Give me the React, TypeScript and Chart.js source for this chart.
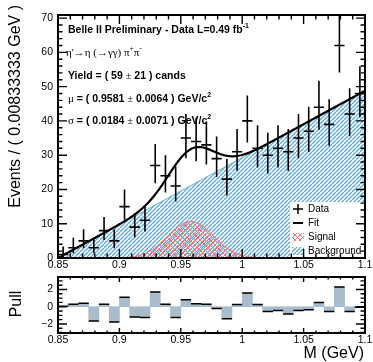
import React, { useEffect, useRef } from "react";
import { Chart, registerables } from "chart.js";
Chart.register(...registerables);

// ---------------- data ----------------
const X_MIN = 0.85;
const X_MAX = 1.1;
const BIN_WIDTH = 0.25 / 30;
const BIN_CENTERS = [
  0.85417, 0.8625, 0.87083, 0.87917, 0.8875, 0.89583, 0.90417, 0.9125, 0.92083, 0.92917,
  0.9375, 0.94583, 0.95417, 0.9625, 0.97083, 0.97917, 0.9875, 0.99583, 1.00417, 1.0125,
  1.02083, 1.02917, 1.0375, 1.04583, 1.05417, 1.0625, 1.07083, 1.07917, 1.0875, 1.09583,
];
const COUNTS = [
  1, 3, 5, 3, 8, 5, 15, 9, 11, 27,
  24, 21, 35, 34, 33, 29, 23, 31, 40, 32,
  30, 32, 31, 35, 37, 44, 39, 62, 42, 48,
];
const PULLS = [
  0.05, 0.3, 0.4, -1.65, 0.3, -1.76, 1.1, -1.2, -1.25, 1.7,
  0.3, -1.25, 0.8, 0.35, 0.3, -0.2, -1.4, 0.25, 1.6, 0.25,
  -0.55, -0.45, -0.85, -0.45, -0.35, 0.5, -0.55, 2.3, -0.55, -0.05,
];
// fit model parameters (from the plot's annotation)
const FIT_MU = 0.9581;
const FIT_SIGMA = 0.0184;
const FIT_YIELD = 59;
const BG_AT_MIN = 0; // background density at 0.85 (events / bin)
const BG_AT_MAX = 48.8; // background density at 1.1 (events / bin)

const X_TICKS = [0.85, 0.9, 0.95, 1, 1.05, 1.1];
const Y_TICKS = [0, 10, 20, 30, 40, 50, 60, 70];
const PULL_TICKS = [-2, 0, 2];
const Y_MAX = 70.9;
const PULL_MIN = -3.05;
const PULL_MAX = 3.45;

const LEGEND = ["Data", "Fit", "Signal", "Background"];

// ---------------- model helpers ----------------
const bg = (m: number) => BG_AT_MIN + ((BG_AT_MAX - BG_AT_MIN) * (m - X_MIN)) / (X_MAX - X_MIN);
const sig = (m: number) =>
  ((FIT_YIELD * BIN_WIDTH) / (FIT_SIGMA * Math.sqrt(2 * Math.PI))) *
  Math.exp(-0.5 * ((m - FIT_MU) / FIT_SIGMA) ** 2);
const SAMPLE_M: number[] = [];
for (let k = 0; k <= 250; k++) SAMPLE_M.push(X_MIN + k * 0.001);

// Poisson (Gehrels) asymmetric errors
const errHi = (n: number) => Math.sqrt(n + 0.75) + 1;
const errLo = (n: number) => (n <= 0 ? 0 : n - n * Math.pow(1 - 1 / (9 * n) - 1 / (3 * Math.sqrt(n)), 3));

const SANS = '"Liberation Sans", Arial, sans-serif';
const SERIF = '"Liberation Serif", "DejaVu Serif", serif';
const BLUE = "rgb(95,172,222)";
const RED = "rgb(238,118,118)";

function makePattern(kind: "bg" | "sig"): CanvasPattern {
  const s = kind === "bg" ? 4 : 5;
  const c = document.createElement("canvas");
  c.width = s;
  c.height = s;
  const g = c.getContext("2d")!;
  g.strokeStyle = kind === "bg" ? BLUE : RED;
  g.lineWidth = kind === "bg" ? 1.3 : 1;
  const line = (a: number, b: number, cc: number, d: number) => {
    g.beginPath();
    g.moveTo(a, b);
    g.lineTo(cc, d);
    g.stroke();
  };
  for (const o of [-s, 0, s]) {
    line(o, s, o + s, 0);
    if (kind === "sig") line(o, 0, o + s, s);
  }
  return g.createPattern(c, "repeat")!;
}

type Part = [string, string, number?];
function drawRich(ctx: CanvasRenderingContext2D, x: number, y: number, parts: Part[]) {
  let cx = x;
  for (const [t, f, dy] of parts) {
    ctx.font = f;
    ctx.fillText(t, cx, y + (dy || 0));
    cx += ctx.measureText(t).width;
  }
}

function minorVals(lo: number, hi: number, step: number, majors: number[]) {
  const out: number[] = [];
  const n = Math.round((hi - lo) / step);
  for (let k = 0; k <= n; k++) {
    const v = +(lo + k * step).toFixed(6);
    if (!majors.some((m) => Math.abs(m - v) < 1e-6)) out.push(v);
  }
  return out;
}

function drawFrameTicks(
  chart: any,
  opt: { xMaj: number; xMin: number; yMaj: number; yMin: number; yMinors: number[]; yMajors: number[] }
) {
  const ctx: CanvasRenderingContext2D = chart.ctx;
  const ca = chart.chartArea;
  const xs = chart.scales.x;
  const ys = chart.scales.y;
  ctx.save();
  ctx.strokeStyle = "#000";
  ctx.lineWidth = 1.4;
  ctx.beginPath();
  const xMinors = minorVals(X_MIN, X_MAX, 0.01, X_TICKS);
  const addX = (v: number, len: number) => {
    const p = xs.getPixelForValue(v);
    ctx.moveTo(p, ca.bottom);
    ctx.lineTo(p, ca.bottom - len);
    ctx.moveTo(p, ca.top);
    ctx.lineTo(p, ca.top + len);
  };
  X_TICKS.forEach((v) => addX(v, opt.xMaj));
  xMinors.forEach((v) => addX(v, opt.xMin));
  const addY = (v: number, len: number) => {
    const p = ys.getPixelForValue(v);
    if (p < ca.top - 0.5 || p > ca.bottom + 0.5) return;
    ctx.moveTo(ca.left, p);
    ctx.lineTo(ca.left + len, p);
    ctx.moveTo(ca.right, p);
    ctx.lineTo(ca.right - len, p);
  };
  opt.yMajors.forEach((v) => addY(v, opt.yMaj));
  opt.yMinors.forEach((v) => addY(v, opt.yMin));
  ctx.stroke();
  ctx.lineWidth = 2;
  ctx.strokeRect(ca.left, ca.top, ca.right - ca.left, ca.bottom - ca.top);
  ctx.restore();
}

const tickFont = { family: SANS, size: 10.5 };

export default function App() {
  const topRef = useRef<HTMLCanvasElement>(null);
  const botRef = useRef<HTMLCanvasElement>(null);

  useEffect(() => {
    const bgPat = makePattern("bg");
    const sigPat = makePattern("sig");

    const topPlugin = {
      id: "topDecor",
      afterDraw(chart: any) {
        const ctx: CanvasRenderingContext2D = chart.ctx;
        const ca = chart.chartArea;
        const xs = chart.scales.x;
        const ys = chart.scales.y;
        ctx.save();
        // data crosses
        ctx.strokeStyle = "#000";
        ctx.lineWidth = 1.6;
        ctx.beginPath();
        COUNTS.forEach((n, i) => {
          const c = BIN_CENTERS[i];
          const x0 = xs.getPixelForValue(c - BIN_WIDTH / 2);
          const x1 = xs.getPixelForValue(c + BIN_WIDTH / 2);
          const xc = xs.getPixelForValue(c);
          const y = ys.getPixelForValue(n);
          const yh = Math.max(ca.top, ys.getPixelForValue(n + errHi(n)));
          const yl = Math.min(ca.bottom, ys.getPixelForValue(n - errLo(n)));
          ctx.moveTo(x0, y);
          ctx.lineTo(x1, y);
          ctx.moveTo(xc, yh);
          ctx.lineTo(xc, yl);
        });
        ctx.stroke();

        // legend
        const lx = ca.right - 75;
        const ly = ca.bottom - 56;
        ctx.fillStyle = "#fff";
        ctx.fillRect(lx, ly, 75, 56);
        const rows = [ly + 7, ly + 21, ly + 35, ly + 49];
        const sx0 = lx + 3;
        const sx1 = lx + 13;
        ctx.strokeStyle = "#000";
        ctx.lineWidth = 1.5;
        ctx.beginPath();
        ctx.moveTo(sx0, rows[0]);
        ctx.lineTo(sx1, rows[0]);
        ctx.moveTo((sx0 + sx1) / 2, rows[0] - 5);
        ctx.lineTo((sx0 + sx1) / 2, rows[0] + 5);
        ctx.stroke();
        ctx.lineWidth = 2;
        ctx.beginPath();
        ctx.moveTo(sx0, rows[1]);
        ctx.lineTo(sx1, rows[1]);
        ctx.stroke();
        ctx.fillStyle = sigPat;
        ctx.fillRect(sx0 - 1, rows[2] - 4, 12, 8);
        ctx.fillStyle = bgPat;
        ctx.fillRect(sx0 - 1, rows[3] - 4, 12, 8);
        ctx.fillStyle = "#000";
        ctx.font = `10px ${SANS}`;
        ctx.textBaseline = "middle";
        ctx.textAlign = "left";
        LEGEND.forEach((t, i) => ctx.fillText(t, lx + 18, rows[i]));

        // annotations
        const B = `bold 10.5px ${SANS}`;
        const BS = `bold 7px ${SANS}`;
        const S = `10.5px ${SERIF}`;
        const tx = ca.left + 10;
        drawRich(ctx, tx, 30, [["Belle II Preliminary - Data L=0.49 fb", B], ["-1", BS, -4]]);
        drawRich(ctx, ca.left + 8, 53, [
          ["η'→η (→γγ) π", `11px ${SERIF}`],
          ["+", `7.5px ${SERIF}`, -4],
          ["π", `11px ${SERIF}`],
          ["-", `7.5px ${SERIF}`, -4],
        ]);
        drawRich(ctx, tx, 76, [["Yield = ( 59 ", B], ["±", S], [" 21 ) cands", B]]);
        drawRich(ctx, tx, 99, [
          ["μ", `11px ${SERIF}`],
          [" = ( 0.9581 ", B],
          ["±", S],
          [" 0.0064 ) GeV/c", B],
          ["2", BS, -4],
        ]);
        drawRich(ctx, tx, 121, [
          ["σ", `11px ${SERIF}`],
          [" = ( 0.0184 ", B],
          ["±", S],
          [" 0.0071 ) GeV/c", B],
          ["2", BS, -4],
        ]);

        // y title
        ctx.save();
        ctx.translate(16, 5);
        ctx.rotate(-Math.PI / 2);
        ctx.textAlign = "right";
        ctx.textBaseline = "middle";
        ctx.font = `16px ${SANS}`;
        ctx.fillText("Events / ( 0.00833333 GeV )", 0, 0);
        ctx.restore();
        ctx.restore();

        drawFrameTicks(chart, {
          xMaj: 9,
          xMin: 4.5,
          yMaj: 9,
          yMin: 4.5,
          yMajors: Y_TICKS,
          yMinors: minorVals(0, 72, 2, Y_TICKS),
        });
      },
    };

    const top = new Chart(topRef.current!, {
      type: "line",
      data: {
        datasets: [
          {
            label: "Background",
            data: SAMPLE_M.filter((_, k) => k % 50 === 0).map((m) => ({ x: m, y: bg(m) })),
            fill: "origin",
            backgroundColor: bgPat as any,
            borderColor: BLUE,
            borderWidth: 1,
            pointRadius: 0,
            order: 4,
          },
          {
            label: "Signal",
            data: SAMPLE_M.map((m) => ({ x: m, y: sig(m) })),
            fill: "origin",
            backgroundColor: sigPat as any,
            borderColor: RED,
            borderWidth: 1,
            pointRadius: 0,
            order: 3,
          },
          {
            label: "Fit",
            data: SAMPLE_M.map((m) => ({ x: m, y: bg(m) + sig(m) })),
            fill: false,
            borderColor: "#000",
            borderWidth: 2.2,
            pointRadius: 0,
            order: 2,
          },
          {
            label: "Data",
            type: "scatter",
            data: COUNTS.map((n, i) => ({ x: BIN_CENTERS[i], y: n })),
            pointRadius: 0,
            showLine: false,
            order: 1,
          } as any,
        ],
      },
      options: {
        animation: false,
        responsive: false,
        maintainAspectRatio: false,
        devicePixelRatio: 1,
        events: [],
        layout: { padding: { top: 15, right: 8, left: 0, bottom: 0 } },
        plugins: { legend: { display: false }, tooltip: { enabled: false } },
        scales: {
          x: {
            type: "linear",
            min: X_MIN,
            max: X_MAX,
            grid: { display: false, drawTicks: false },
            border: { display: false },
            afterBuildTicks: (s: any) => {
              s.ticks = X_TICKS.map((v) => ({ value: v }));
            },
            afterFit: (s: any) => {
              s.height = 14;
              s.paddingLeft = 0;
              s.paddingRight = 0;
            },
            ticks: {
              padding: 1,
              font: tickFont,
              color: "#000",
              maxRotation: 0,
              autoSkip: false,
              callback: (v: any) => String(+(+v).toFixed(2)),
            },
          },
          y: {
            min: 0,
            max: Y_MAX,
            grid: { display: false, drawTicks: false },
            border: { display: false },
            afterBuildTicks: (s: any) => {
              s.ticks = Y_TICKS.map((v) => ({ value: v }));
            },
            afterFit: (s: any) => {
              s.width = 58;
              s.paddingTop = 0;
              s.paddingBottom = 0;
            },
            ticks: { padding: 5, font: tickFont, color: "#000", callback: (v: any) => String(v) },
          },
        },
      } as any,
      plugins: [topPlugin],
    });

    const botPlugin = {
      id: "botDecor",
      afterDraw(chart: any) {
        const ctx: CanvasRenderingContext2D = chart.ctx;
        const xs = chart.scales.x;
        const ys = chart.scales.y;
        ctx.save();
        ctx.strokeStyle = "#000";
        ctx.lineWidth = 1.5;
        ctx.beginPath();
        PULLS.forEach((p, i) => {
          const c = BIN_CENTERS[i];
          const x0 = xs.getPixelForValue(c - BIN_WIDTH / 2);
          const x1 = xs.getPixelForValue(c + BIN_WIDTH / 2);
          const y = ys.getPixelForValue(p);
          ctx.moveTo(x0, y);
          ctx.lineTo(x1, y);
        });
        ctx.stroke();
        ctx.fillStyle = "#000";
        ctx.font = `16px ${SANS}`;
        ctx.textBaseline = "middle";
        ctx.textAlign = "right";
        ctx.fillText("M (GeV)", 364, 82);
        ctx.save();
        ctx.translate(17, 32);
        ctx.rotate(-Math.PI / 2);
        ctx.textAlign = "center";
        ctx.fillText("Pull", 0, 0);
        ctx.restore();
        ctx.restore();
        drawFrameTicks(chart, {
          xMaj: 5,
          xMin: 2.5,
          yMaj: 9,
          yMin: 4.5,
          yMajors: PULL_TICKS,
          yMinors: minorVals(-3, 3, 0.5, PULL_TICKS),
        });
      },
    };

    const bot = new Chart(botRef.current!, {
      type: "bar",
      data: {
        datasets: [
          {
            label: "Pull",
            data: PULLS.map((p, i) => ({ x: BIN_CENTERS[i], y: p })),
            backgroundColor: "rgb(168,188,203)",
            borderWidth: 0,
            barPercentage: 1,
            categoryPercentage: 1,
          },
        ],
      },
      options: {
        animation: false,
        responsive: false,
        maintainAspectRatio: false,
        devicePixelRatio: 1,
        events: [],
        layout: { padding: { top: 5, right: 8, left: 0, bottom: 0 } },
        plugins: { legend: { display: false }, tooltip: { enabled: false } },
        scales: {
          x: {
            type: "linear",
            min: X_MIN,
            max: X_MAX,
            offset: false,
            grid: { display: false, drawTicks: false },
            border: { display: false },
            afterBuildTicks: (s: any) => {
              s.ticks = X_TICKS.map((v) => ({ value: v }));
            },
            afterFit: (s: any) => {
              s.height = 29;
              s.paddingLeft = 0;
              s.paddingRight = 0;
            },
            ticks: {
              padding: 1,
              font: tickFont,
              color: "#000",
              maxRotation: 0,
              autoSkip: false,
              callback: (v: any) => String(+(+v).toFixed(2)),
            },
          },
          y: {
            min: PULL_MIN,
            max: PULL_MAX,
            grid: { display: false, drawTicks: false },
            border: { display: false },
            afterBuildTicks: (s: any) => {
              s.ticks = PULL_TICKS.map((v) => ({ value: v }));
            },
            afterFit: (s: any) => {
              s.width = 58;
              s.paddingTop = 0;
              s.paddingBottom = 0;
            },
            ticks: {
              padding: 5,
              font: tickFont,
              color: "#000",
              callback: (v: any) => (v < 0 ? "−" + Math.abs(v) : String(v)),
            },
          },
        },
      } as any,
      plugins: [botPlugin],
    });

    return () => {
      top.destroy();
      bot.destroy();
    };
  }, []);

  return (
    <div style={{ position: "absolute", left: 0, top: 0, width: 373, height: 362, background: "#fff" }}>
      <canvas ref={topRef} width={373} height={272} style={{ position: "absolute", left: 0, top: 0, display: "block" }} />
      <canvas ref={botRef} width={373} height={90} style={{ position: "absolute", left: 0, top: 272, display: "block" }} />
    </div>
  );
}
